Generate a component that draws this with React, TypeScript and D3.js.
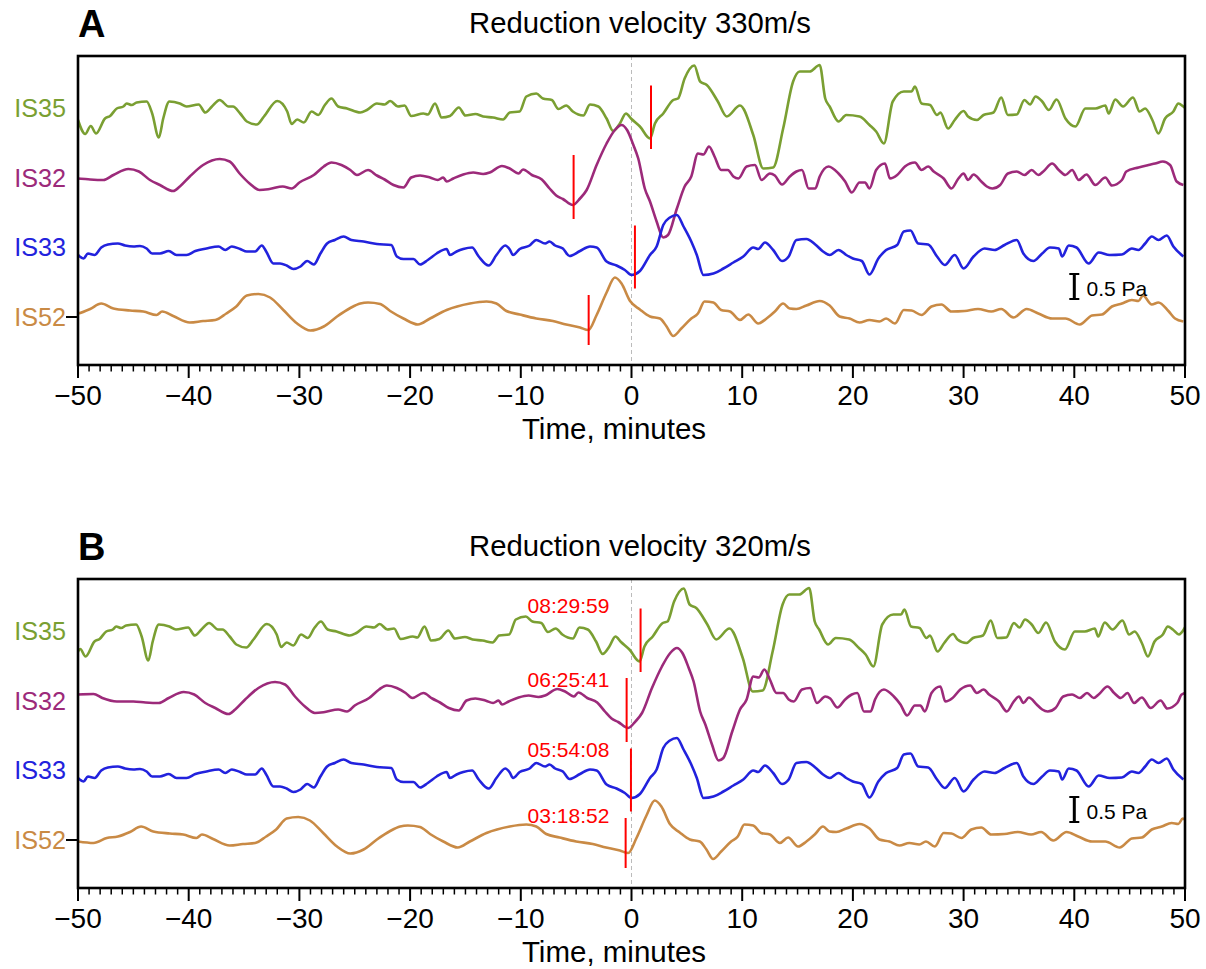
import React from "react";
import * as d3 from "d3";

// ---------------- data (pressure in Pa, time in minutes, panel A alignment) ----------------
const stations = ["IS35", "IS32", "IS33", "IS52"];
const stationColors = ["#7a9f32", "#9c2a7a", "#2222dd", "#c98a45"];

const is35: [number, number][] = [
  [-50.0,-0.24],[-49.35,-0.52],[-48.85,-0.36],[-48.37,-0.51],[-47.56,-0.21],[-47.1,-0.16],[-46.5,-0.01],[-45.9,0.03],[-45.6,0.09],[-45.15,0.06],[-44.7,0.11],[-43.8,0.13],[-43.3,-0.11],[-42.7,-0.59],[-42.3,-0.21],[-41.75,0.13],[-40.8,0.09],[-40.2,0.03],[-39.1,0.07],[-38.5,-0.09],[-37.9,0.03],[-37.2,0.16],[-36.4,0.03],[-36.0,0.03],[-35.35,-0.11],[-34.75,-0.27],[-33.85,-0.33],[-33.2,-0.17],[-32.0,0.14],[-31.1,-0.07],[-30.7,-0.32],[-30.2,-0.23],[-29.6,-0.29],[-28.9,-0.07],[-28.3,-0.14],[-27.7,0.06],[-27.1,0.19],[-26.5,0.03],[-25.7,-0.01],[-24.5,-0.09],[-23.9,-0.04],[-23.0,0.09],[-22.3,0.07],[-21.8,0.14],[-21.1,0.03],[-20.5,0.05],[-19.9,-0.16],[-18.8,-0.11],[-18.4,-0.13],[-17.75,0.09],[-17.15,-0.19],[-16.4,-0.16],[-15.6,0.01],[-15.0,-0.15],[-14.1,-0.12],[-13.4,-0.17],[-12.5,-0.19],[-11.6,-0.23],[-11.0,-0.09],[-10.1,-0.07],[-9.5,0.23],[-8.6,0.29],[-8.0,0.19],[-7.2,0.16],[-6.6,-0.02],[-5.9,0.05],[-5.3,-0.07],[-4.35,-0.15],[-3.75,0.07],[-3.0,0.03],[-2.25,-0.21],[-1.65,-0.46],[-1.05,-0.31],[-0.5,-0.11],[0.0,-0.22],[0.76,-0.37],[1.67,-0.61],[2.12,-0.31],[2.87,-0.11],[3.77,0.16],[4.2,0.19],[4.8,0.59],[5.67,0.85],[6.2,0.53],[6.8,0.46],[7.8,0.13],[8.6,-0.17],[9.8,0.05],[11.0,-0.54],[11.9,-1.21],[12.8,-1.19],[13.7,-0.41],[14.6,0.53],[15.2,0.73],[16.1,0.73],[17.0,0.86],[17.5,0.19],[17.9,0.03],[18.7,-0.27],[19.4,-0.14],[20.6,-0.17],[21.5,-0.34],[22.1,-0.47],[22.8,-0.71],[23.6,0.13],[24.6,0.33],[25.3,0.33],[25.6,0.43],[26.2,0.09],[26.97,0.06],[27.6,-0.14],[27.9,-0.09],[28.6,-0.41],[29.2,-0.24],[30.0,-0.06],[30.4,-0.17],[31.2,-0.24],[31.8,-0.14],[32.7,-0.09],[33.4,0.21],[34.0,-0.14],[34.8,-0.13],[35.5,0.16],[36.0,0.07],[36.5,0.23],[37.1,0.13],[37.7,-0.04],[38.4,0.17],[39.2,-0.21],[40.1,-0.37],[41.0,-0.01],[41.9,-0.01],[42.8,0.05],[43.1,-0.11],[43.7,0.17],[44.4,0.03],[45.3,0.21],[45.9,-0.07],[46.4,-0.01],[47.05,-0.24],[47.6,-0.51],[48.2,-0.21],[48.95,-0.07],[49.4,0.09],[49.85,0.03],[50.4,-0.07],[51.0,0.09]
];

const is32: [number, number][] = [
  [-55,0.13],[-53.6,0.14],[-52.8,0.06],[-51.5,-0.01],[-50.0,-0.01],[-48.9,-0.03],[-47.7,-0.04],[-46.8,0.06],[-45.45,0.18],[-44.5,0.13],[-43.5,-0.04],[-42.6,-0.14],[-41.4,-0.26],[-40.8,-0.17],[-39.9,0.03],[-38.7,0.26],[-37.2,0.38],[-36.3,0.33],[-35.4,0.09],[-34.5,-0.11],[-33.6,-0.24],[-32.7,-0.22],[-31.5,-0.17],[-30.7,-0.21],[-30.0,-0.09],[-28.7,0.06],[-27.8,0.23],[-27.1,0.31],[-26.2,0.26],[-25.4,0.16],[-24.8,0.06],[-23.8,0.16],[-23.0,0.05],[-22.3,-0.03],[-21.5,-0.14],[-20.6,-0.19],[-19.9,0.01],[-19.1,0.05],[-18.2,0.01],[-17.5,-0.04],[-17.0,0.01],[-16.7,-0.07],[-16.1,-0.01],[-15.2,0.07],[-14.3,0.11],[-13.4,0.08],[-12.8,0.11],[-11.7,0.24],[-11.0,0.19],[-10.2,0.09],[-9.8,0.17],[-9.0,0.06],[-8.1,-0.03],[-7.4,-0.21],[-6.8,-0.35],[-6.2,-0.42],[-5.3,-0.54],[-4.65,-0.41],[-4.05,-0.24],[-3.15,0.26],[-2.25,0.69],[-1.5,0.96],[-0.9,1.06],[-0.4,0.96],[0.17,0.66],[0.61,0.39],[1.2,-0.21],[1.67,-0.47],[2.27,-0.87],[2.87,-1.19],[3.3,-1.14],[4.1,-0.61],[4.8,-0.17],[5.4,0.03],[6.0,0.49],[6.5,0.47],[7.0,0.63],[7.5,0.43],[8.1,0.16],[8.7,0.16],[9.2,0.03],[9.65,-0.01],[10.4,0.23],[11.15,0.26],[11.75,-0.04],[12.5,0.09],[12.95,0.05],[13.6,-0.13],[14.3,0.03],[14.9,0.13],[15.4,0.16],[16.0,-0.21],[16.6,-0.21],[17.0,0.03],[17.8,0.23],[18.7,0.09],[19.3,-0.07],[19.9,-0.29],[20.6,-0.09],[21.1,-0.09],[21.5,-0.21],[22.1,0.16],[22.9,0.29],[23.35,-0.01],[24.0,0.06],[24.7,0.23],[25.6,0.31],[26.2,0.16],[26.8,0.23],[27.3,0.13],[28.2,-0.01],[28.9,-0.21],[29.5,-0.02],[30.0,0.09],[30.4,-0.04],[30.9,0.07],[31.6,-0.07],[32.1,-0.17],[32.6,-0.21],[33.3,-0.14],[34.0,0.09],[34.8,0.13],[35.5,0.06],[36.15,0.16],[36.75,0.06],[37.2,0.13],[38.0,0.29],[38.6,0.16],[39.2,0.06],[39.8,0.16],[40.4,-0.04],[41.1,0.07],[41.9,-0.14],[42.8,0.01],[43.4,-0.15],[44.3,-0.04],[44.7,0.13],[45.8,0.21],[46.7,0.26],[47.3,0.29],[48.0,0.33],[48.65,0.26],[49.25,-0.07],[49.85,-0.14]
];

const is33: [number, number][] = [
  [-50.0,-0.16],[-49.5,-0.23],[-49.1,-0.13],[-48.5,-0.16],[-47.9,-0.01],[-47.3,0.05],[-46.4,0.07],[-45.75,0.03],[-45.0,0.01],[-44.4,0.02],[-43.8,-0.03],[-43.3,-0.13],[-42.6,-0.13],[-41.8,-0.08],[-41.1,-0.16],[-40.2,-0.16],[-39.4,-0.08],[-38.4,-0.03],[-37.3,0.01],[-36.7,-0.06],[-36.1,0.01],[-35.35,-0.04],[-34.75,-0.09],[-34.0,-0.09],[-33.4,0.03],[-33.0,-0.09],[-32.35,-0.33],[-31.75,-0.33],[-31.15,-0.37],[-30.55,-0.44],[-29.9,-0.39],[-29.3,-0.28],[-28.7,-0.35],[-28.1,-0.13],[-27.5,0.07],[-26.8,0.14],[-26.0,0.21],[-25.3,0.14],[-24.2,0.11],[-23.0,0.06],[-21.7,0.04],[-21.2,-0.19],[-20.6,-0.24],[-19.7,-0.24],[-19.1,-0.35],[-18.4,-0.26],[-17.6,-0.13],[-16.7,-0.04],[-16.4,-0.16],[-15.8,-0.09],[-15.2,-0.04],[-14.4,-0.01],[-13.8,-0.19],[-12.9,-0.37],[-12.2,-0.16],[-11.4,0.03],[-11.0,-0.05],[-10.7,-0.16],[-10.1,-0.04],[-9.2,0.03],[-8.6,0.14],[-7.8,0.07],[-7.4,0.11],[-6.9,0.03],[-6.2,-0.03],[-5.6,-0.18],[-4.65,-0.08],[-3.75,0.01],[-3.15,-0.01],[-2.25,-0.29],[-1.35,-0.37],[-0.6,-0.46],[0.0,-0.56],[0.76,-0.48],[1.67,-0.16],[2.27,0.01],[2.87,0.44],[3.47,0.59],[4.1,0.64],[4.7,0.41],[5.4,0.11],[5.9,-0.16],[6.5,-0.56],[7.4,-0.53],[8.3,-0.43],[9.2,-0.31],[10.1,-0.19],[11.0,-0.01],[11.45,-0.04],[12.05,0.09],[12.8,-0.06],[13.6,-0.28],[14.2,-0.19],[14.9,0.14],[15.8,0.16],[16.6,0.05],[17.3,-0.09],[17.9,-0.16],[18.7,-0.06],[19.4,-0.16],[20.0,-0.23],[20.8,-0.28],[21.5,-0.55],[22.3,-0.23],[23.0,-0.06],[24.0,0.04],[24.6,0.31],[25.2,0.33],[25.9,0.07],[26.8,0.05],[27.6,-0.19],[28.3,-0.36],[29.2,-0.16],[30.0,-0.43],[30.9,-0.19],[31.9,-0.03],[32.8,-0.06],[33.7,0.04],[34.8,0.14],[35.4,-0.13],[36.3,-0.28],[37.1,-0.13],[37.8,-0.01],[38.6,-0.03],[38.9,-0.19],[39.5,0.03],[40.2,-0.01],[41.3,-0.33],[42.2,-0.11],[43.2,-0.16],[44.3,-0.15],[45.2,-0.03],[45.8,-0.06],[46.4,0.07],[47.0,0.21],[47.6,0.14],[48.35,0.23],[48.95,0.01],[49.85,-0.19]
];

const is52: [number, number][] = [
  [-53.6,-0.03],[-52.2,-0.06],[-51.0,0.04],[-50.0,0.07],[-48.9,0.16],[-47.9,0.27],[-46.8,0.17],[-45.3,0.13],[-44.1,0.11],[-42.9,0.04],[-42.4,0.11],[-41.4,0.02],[-39.9,-0.11],[-38.7,-0.08],[-37.6,-0.06],[-36.6,0.07],[-35.7,0.21],[-34.75,0.43],[-33.7,0.46],[-32.65,0.39],[-31.45,0.14],[-30.2,-0.13],[-29.0,-0.27],[-27.8,-0.19],[-26.6,0.01],[-25.4,0.18],[-24.5,0.27],[-23.8,0.29],[-22.7,0.26],[-21.8,0.12],[-20.6,-0.03],[-19.3,-0.15],[-18.2,-0.03],[-16.7,0.14],[-14.6,0.27],[-13.1,0.31],[-12.2,0.27],[-11.3,0.12],[-10.1,0.05],[-8.6,-0.03],[-7.1,-0.08],[-5.9,-0.15],[-4.65,-0.21],[-3.9,-0.26],[-3.15,0.04],[-2.25,0.49],[-1.5,0.79],[-0.9,0.67],[-0.13,0.32],[0.76,0.15],[1.67,0.01],[2.57,-0.03],[3.17,-0.19],[3.77,-0.38],[4.5,-0.23],[5.4,-0.03],[6.0,0.07],[6.6,0.31],[7.4,0.29],[8.1,0.14],[8.9,0.11],[9.8,-0.06],[10.55,0.05],[11.45,-0.13],[12.2,-0.03],[12.95,0.11],[13.7,0.27],[14.3,0.17],[14.9,0.16],[15.8,0.23],[17.0,0.32],[17.9,0.23],[18.8,0.01],[19.7,-0.03],[20.6,-0.11],[21.5,-0.06],[22.4,-0.09],[23.0,-0.03],[23.8,-0.13],[24.6,0.14],[25.3,0.13],[26.2,0.04],[27.1,0.21],[28.0,0.25],[28.9,0.11],[30.1,0.12],[31.3,0.16],[32.5,0.11],[33.4,0.16],[34.5,-0.01],[35.7,0.16],[36.75,0.07],[38.0,-0.03],[39.2,-0.03],[40.5,-0.15],[41.6,0.03],[42.5,0.05],[43.4,0.21],[44.3,0.27],[45.2,0.34],[45.8,0.32],[46.2,0.43],[47.0,0.25],[47.6,0.29],[48.5,0.12],[49.1,-0.03],[49.85,-0.09]
];

const traces = [is35, is32, is33, is52];
// trace baselines, Pa above bottom of panel
const baselines = [5.14, 3.74, 2.36, 0.96];

const panelLetters = ["A", "B"];
const panelTitles = ["Reduction velocity 330m/s", "Reduction velocity 320m/s"];
// time shift (minutes) applied to each station for each reduction velocity
const timeShiftsA = [0, 0, 0, 0];
const timeShiftsB = [-0.95, 5.0, 0, 3.6];
// picked arrival markers (minutes)
const arrivalsA = [1.76, -5.23, 0.31, -3.87];
const arrivalsB = [0.82, -0.44, -0.05, -0.53];
const markerTopPa = [0.45, 0.46, 0.43, 0.44];
const markerBottomPa = [-0.82, -0.82, -0.83, -0.56];
const arrivalLabelsB = ["08:29:59", "06:25:41", "05:54:08", "03:18:52"];
const arrivalLabelLift = [0.36, 0.28, 0.26, 0.34];

const xMajorTicks = d3.range(-50, 51, 10);
const xMinorTicks = d3.range(-50, 51, 1);
const scaleBarPa = 0.5;
const scaleBarTime = 40;
const xAxisTitle = "Time, minutes";

// ---------------- layout ----------------
const W = 1206;
const H = 969;
const LEFT = 78;
const RIGHT = 1185;
const PANEL_H = 309;
const PANEL_TOPS = [56, 579];
const PX_PER_PA = 50;
const FONT = "'Liberation Sans', Arial, Helvetica, sans-serif";

const x = d3.scaleLinear().domain([-50, 50]).range([LEFT, RIGHT]);

function Panel({ idx }: { idx: number }) {
  const top = PANEL_TOPS[idx];
  const bottom = top + PANEL_H;
  const y = d3.scaleLinear().domain([0, PANEL_H / PX_PER_PA]).range([bottom, top]);
  const shifts = idx === 0 ? timeShiftsA : timeShiftsB;
  const arrivals = idx === 0 ? arrivalsA : arrivalsB;
  const clipId = `clip${idx}`;

  return (
    <g>
      <defs>
        <clipPath id={clipId}>
          <rect x={LEFT} y={top} width={RIGHT - LEFT} height={PANEL_H} />
        </clipPath>
      </defs>
      {/* letter + title */}
      <text x={LEFT} y={top - 19} fontFamily={FONT} fontWeight="bold" fontSize={38} fill="#000">
        {panelLetters[idx]}
      </text>
      <text x={640} y={top - 23} fontFamily={FONT} fontSize={29.3} textAnchor="middle" fill="#000">
        {panelTitles[idx]}
      </text>

      {/* zero line */}
      <line x1={x(0)} x2={x(0)} y1={top} y2={bottom} stroke="#bbb" strokeWidth={1} strokeDasharray="4,3" />

      {/* traces */}
      <g clipPath={`url(#${clipId})`}>
        {traces.map((tr, i) => {
          const line = d3
            .line<[number, number]>()
            .x((d) => x(d[0] + shifts[i]))
            .y((d) => y(baselines[i] + d[1]))
            .curve(d3.curveMonotoneX);
          return (
            <path key={i} d={line(tr) || ""} fill="none" stroke={stationColors[i]} strokeWidth={2.6} strokeLinejoin="round" />
          );
        })}
      </g>

      {/* arrival markers */}
      {arrivals.map((t, i) => (
        <line
          key={i}
          x1={x(t)}
          x2={x(t)}
          y1={y(baselines[i] + markerTopPa[i])}
          y2={y(baselines[i] + markerBottomPa[i])}
          stroke="#ff0000"
          strokeWidth={2}
        />
      ))}
      {idx === 1 &&
        arrivalLabelsB.map((s, i) => (
          <text
            key={i}
            x={x(-2.0)}
            y={y(baselines[i] + arrivalLabelLift[i])}
            textAnchor="end"
            fontFamily={FONT}
            fontSize={21}
            fill="#ff0000"
          >
            {s}
          </text>
        ))}

      {/* station labels */}
      {stations.map((s, i) => (
        <text
          key={s}
          x={66}
          y={y(baselines[i])}
          dy="0.35em"
          textAnchor="end"
          fontFamily={FONT}
          fontSize={25.2}
          fill={stationColors[i]}
        >
          {s}
        </text>
      ))}
      <line x1={66} x2={LEFT} y1={y(baselines[3])} y2={y(baselines[3])} stroke="#000" strokeWidth={2} />

      {/* scale bar */}
      {(() => {
        const bx = x(scaleBarTime);
        const y1 = y(baselines[3] + 0.36);
        const y2 = y(baselines[3] + 0.36 + scaleBarPa);
        return (
          <g>
            <line x1={bx} x2={bx} y1={y1} y2={y2} stroke="#000" strokeWidth={3} />
            <line x1={bx - 5} x2={bx + 5} y1={y1} y2={y1} stroke="#000" strokeWidth={2} />
            <line x1={bx - 5} x2={bx + 5} y1={y2} y2={y2} stroke="#000" strokeWidth={2} />
            <text x={x(41.1)} y={y(baselines[3] + 0.42)} fontFamily={FONT} fontSize={21} fill="#000">
              {`${scaleBarPa} Pa`}
            </text>
          </g>
        );
      })()}

      {/* frame */}
      <rect x={LEFT} y={top} width={RIGHT - LEFT} height={PANEL_H} fill="none" stroke="#000" strokeWidth={2.6} />

      {/* x axis ticks */}
      {xMinorTicks.map((t) => (
        <line
          key={t}
          x1={x(t)}
          x2={x(t)}
          y1={bottom}
          y2={bottom + (t % 10 === 0 ? 13 : 6.5)}
          stroke="#000"
          strokeWidth={t % 10 === 0 ? 2 : 1.5}
        />
      ))}
      {xMajorTicks.map((t) => (
        <text key={t} x={x(t)} y={bottom + 40} textAnchor="middle" fontFamily={FONT} fontSize={28} fill="#000">
          {t < 0 ? `\u2212${Math.abs(t)}` : `${t}`}
        </text>
      ))}
      <text x={614} y={bottom + 74} textAnchor="middle" fontFamily={FONT} fontSize={29.5} fill="#000">
        {xAxisTitle}
      </text>
    </g>
  );
}

export default function App() {
  return (
    <svg
      width={W}
      height={H}
      viewBox={`0 0 ${W} ${H}`}
      style={{ position: "absolute", left: 0, top: 0, background: "#fff" }}
    >
      <rect x={0} y={0} width={W} height={H} fill="#fff" />
      <Panel idx={0} />
      <Panel idx={1} />
    </svg>
  );
}
